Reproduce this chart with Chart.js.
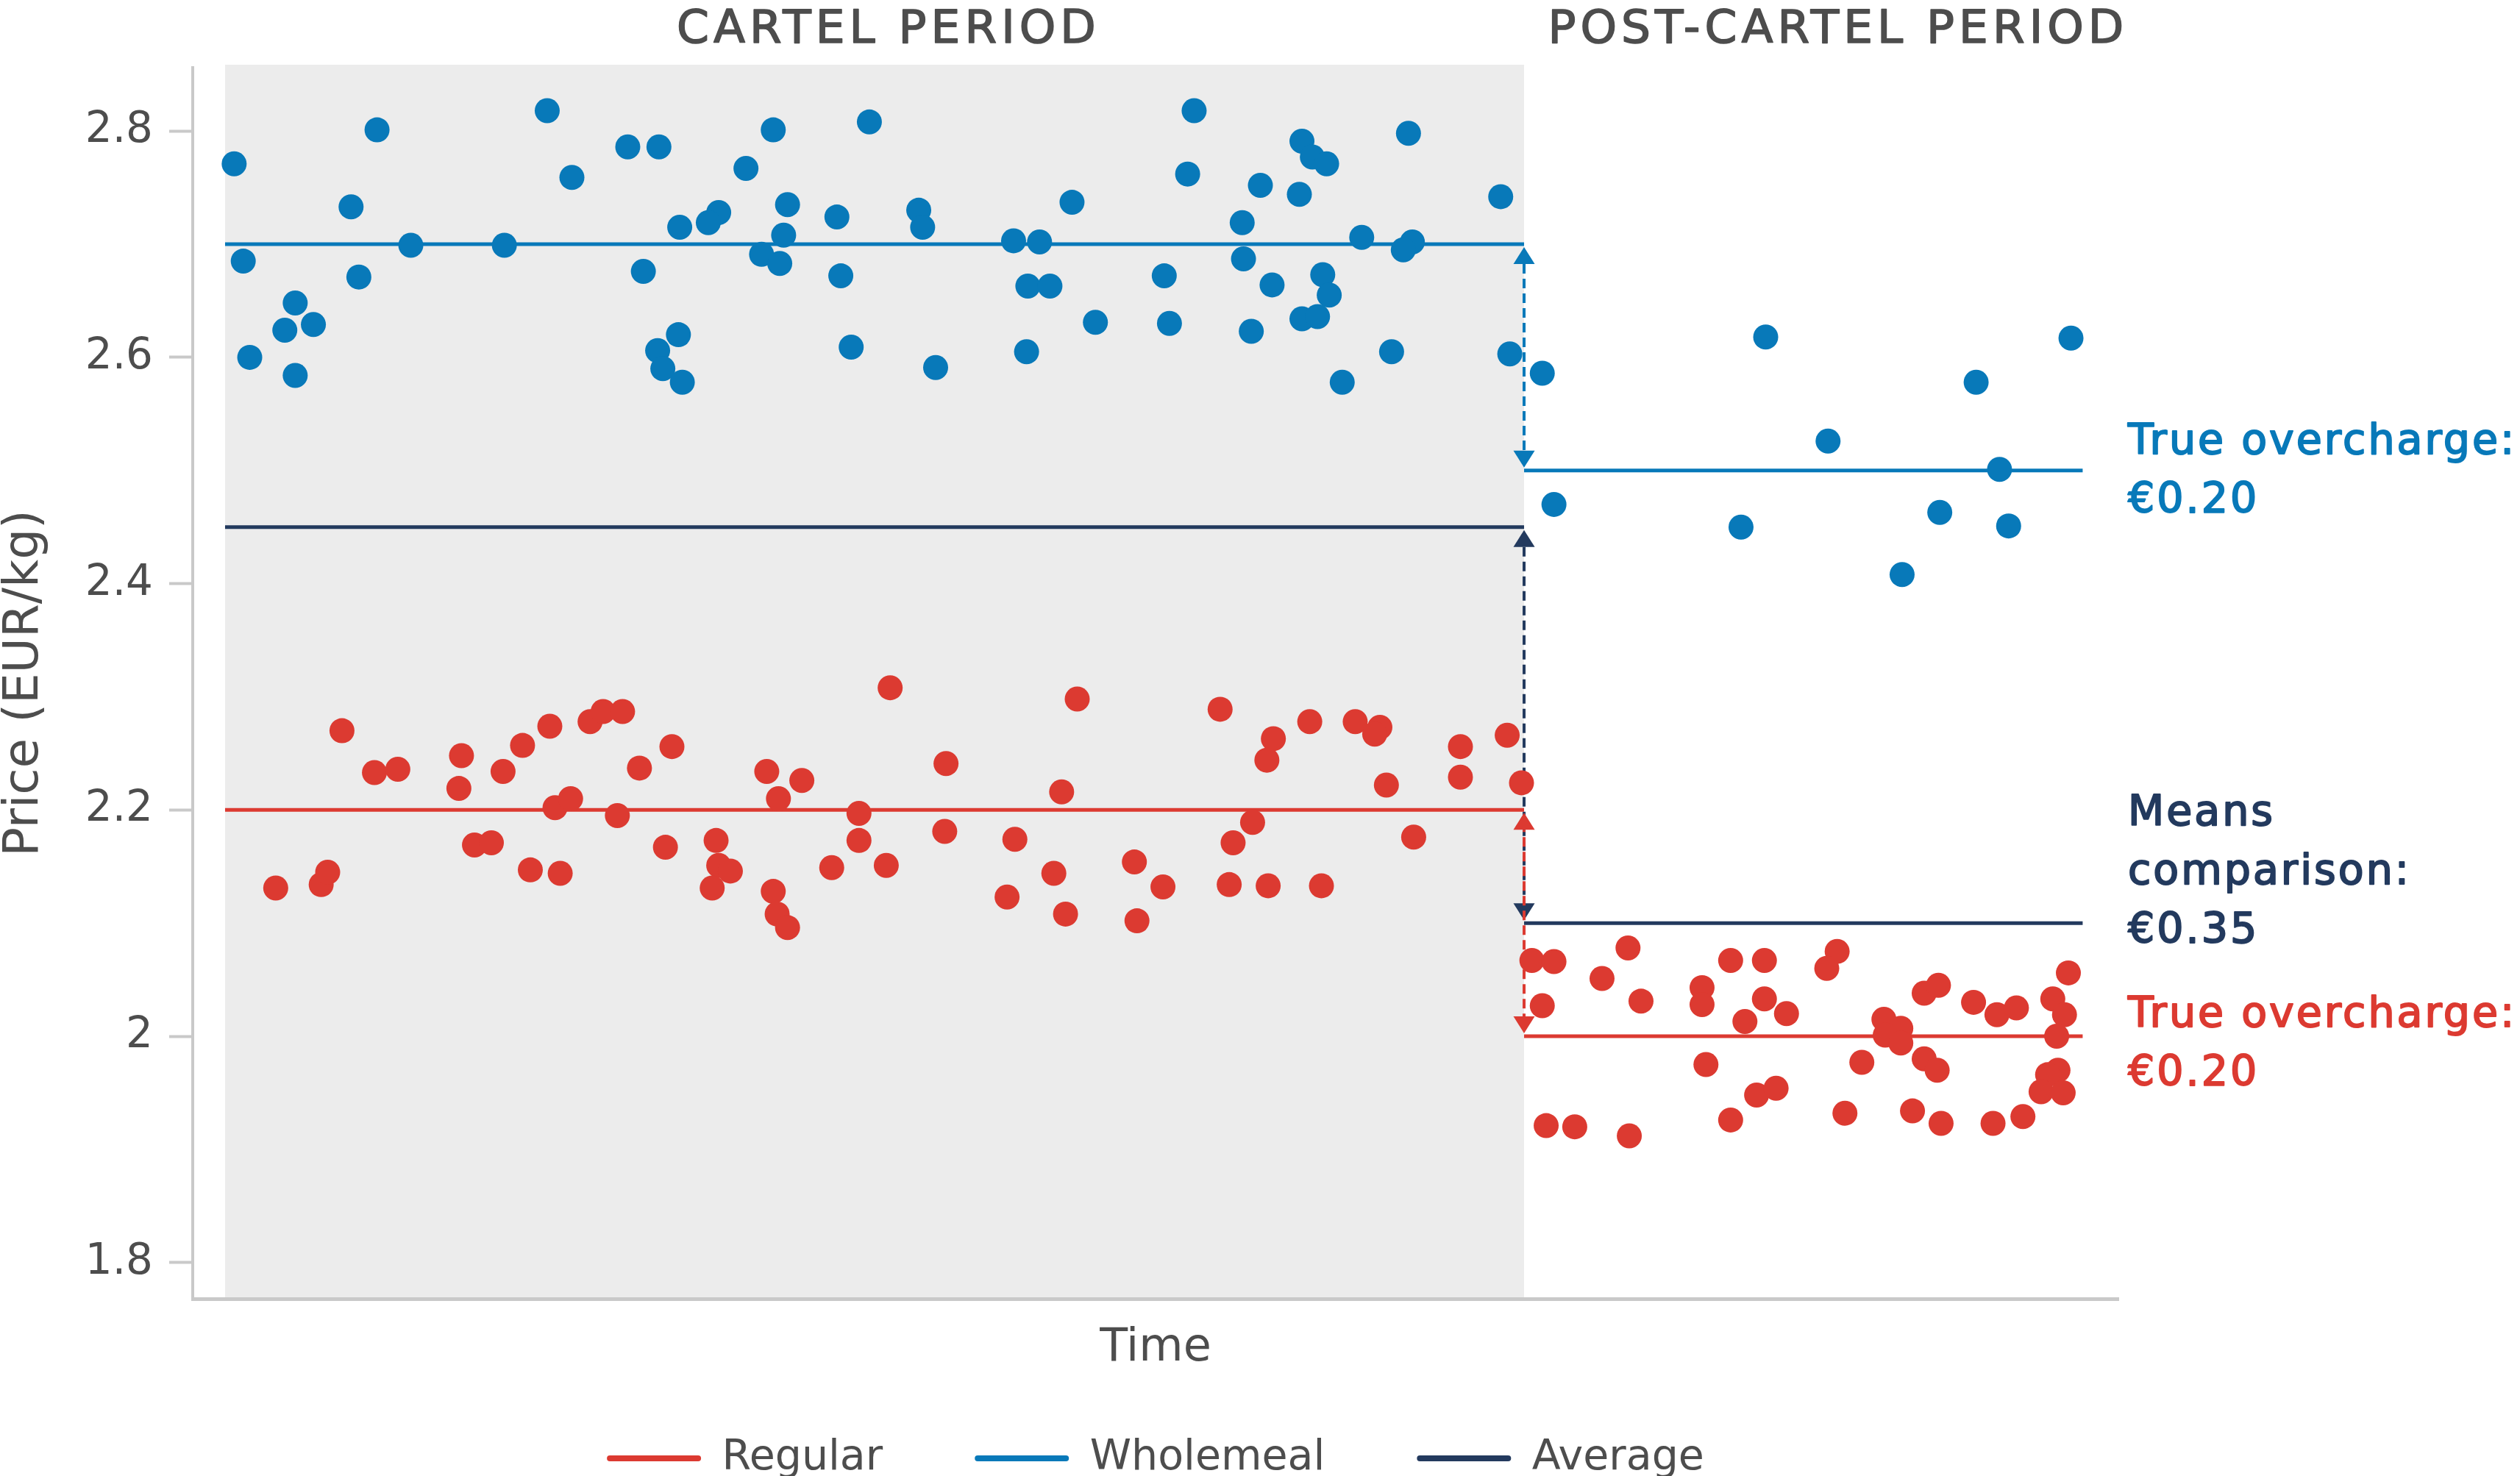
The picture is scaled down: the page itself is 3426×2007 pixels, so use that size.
<!DOCTYPE html>
<html>
<head>
<meta charset="utf-8">
<script src="https://cdn.jsdelivr.net/npm/chart.js"></script>
<style>
html, body { margin: 0; padding: 0; background: #ffffff; }
#wrap { width: 3426px; height: 2007px; }
canvas { display: block; }
</style>
</head>
<body>
<div id="wrap"><canvas id="chart" width="3426" height="2007"></canvas></div>
<script>
// ---------------- DATA ----------------
const periodBounds = [0, 100, 143];            // start of cartel, end of cartel, end of post-cartel (time units)
const periodTitles = ['CARTEL PERIOD', 'POST-CARTEL PERIOD'];
const periodTitleX = [50.9, 124.0];
const yTicks = [1.8, 2, 2.2, 2.4, 2.6, 2.8];

const wholemealMeans = [2.70, 2.50];            // cartel, post-cartel
const regularMeans   = [2.20, 2.00];
const averageMeans   = [2.45, 2.10];

const legendLabels = ['Regular', 'Wholemeal', 'Average'];
const wholemealNote = ['True overcharge:', '€0.20'];
const averageNote   = ['Means', 'comparison:', '€0.35'];
const regularNote   = ['True overcharge:', '€0.20'];

const wholemealTime = [
  0.7,11.7,24.8,31.0,33.4,26.7,42.2,40.1,49.6,9.7,
  38.0,37.2,35.0,43.3,43.0,47.1,14.3,21.5,1.4,41.3,
  42.7,32.2,47.4,10.3,5.4,4.6,6.8,1.9,5.4,34.9,
  33.3,33.7,35.2,48.2,
  74.6,91.1,82.9,83.7,84.8,74.1,79.7,82.7,98.2,53.4,
  53.7,65.2,78.3,60.7,62.7,87.5,91.4,90.7,78.4,72.3,
  61.8,63.5,80.6,84.5,85.0,67.0,72.7,79.0,82.9,84.1,
  61.7,54.7,89.8,98.9,86.0,
  101.4,102.3,118.6,116.7,123.4,129.1,132.0,134.8,136.6,137.3,142.1
];
const wholemealPrice = [
  2.771,2.801,2.818,2.786,2.786,2.759,2.801,2.767,2.808,2.733,
  2.728,2.719,2.715,2.735,2.708,2.724,2.699,2.699,2.685,2.691,
  2.683,2.676,2.672,2.671,2.648,2.624,2.629,2.600,2.584,2.620,
  2.606,2.590,2.578,2.609,
  2.818,2.798,2.791,2.777,2.771,2.762,2.752,2.744,2.742,2.730,
  2.715,2.737,2.719,2.703,2.702,2.706,2.702,2.695,2.687,2.672,
  2.663,2.663,2.664,2.673,2.655,2.631,2.630,2.623,2.634,2.636,
  2.605,2.591,2.605,2.603,2.578,
  2.586,2.470,2.618,2.450,2.526,2.408,2.463,2.578,2.501,2.451,2.617
];

const regularTime = [
  3.9,7.4,7.9,9.0,11.5,13.3,18.2,18.0,19.2,20.5,
  21.4,22.9,25.0,23.5,25.8,25.4,26.6,28.1,29.1,30.6,
  30.2,31.9,34.4,33.9,37.8,38.0,38.9,37.5,41.7,42.6,
  44.4,42.2,42.5,43.3,46.7,48.8,48.8,
  51.2,50.9,55.5,55.4,60.8,60.2,63.8,64.7,64.4,65.6,
  70.0,72.2,70.2,76.6,80.7,80.2,79.1,77.6,77.3,80.3,
  84.4,83.5,87.0,88.9,88.5,89.4,91.5,95.1,95.1,98.7,
  99.8,
  100.6,102.3,101.4,101.7,103.9,106.0,108.0,109.0,108.1,115.9,
  118.5,113.7,113.7,114.0,117.0,118.5,120.2,124.1,123.3,115.9,
  117.9,119.4,124.7,126.0,127.7,129.0,127.8,129.0,130.8,131.8,
  129.9,132.1,130.8,131.9,134.6,136.4,137.9,136.1,138.4,141.9,
  140.7,141.6,141.0,141.1,140.3,139.8,141.5
];
const regularPrice = [
  2.131,2.134,2.145,2.270,2.233,2.236,2.248,2.219,2.169,2.171,
  2.234,2.257,2.274,2.147,2.144,2.202,2.210,2.278,2.287,2.287,
  2.195,2.237,2.256,2.167,2.173,2.151,2.146,2.131,2.234,2.210,
  2.226,2.128,2.108,2.096,2.149,2.197,2.173,
  2.308,2.151,2.241,2.181,2.174,2.123,2.144,2.108,2.216,2.298,
  2.154,2.132,2.102,2.289,2.263,2.244,2.189,2.171,2.134,2.133,
  2.133,2.278,2.278,2.273,2.267,2.222,2.176,2.256,2.229,2.266,
  2.224,
  2.067,2.066,2.027,1.921,1.920,2.051,2.078,2.031,1.912,2.067,
  2.067,2.043,2.028,1.975,2.013,2.033,2.020,2.075,2.060,1.926,
  1.948,1.954,1.932,1.977,2.015,2.007,2.001,1.994,1.980,1.970,
  1.934,1.923,2.038,2.045,2.030,2.019,2.025,1.923,1.929,2.056,
  2.033,2.019,2.000,1.970,1.966,1.951,1.950
];

// ---------------- STYLE ----------------
const RED = '#dc3a31';
const BLUE = '#0879b9';
const NAVY = '#233a5e';
const BAND = '#ececec';
const AXIS = '#c9c9c9';
const TEXT = '#4d4d4d';
const FONT = "'DejaVu Sans', 'Noto Sans', sans-serif";
const legendColors = [RED, BLUE, NAVY];

Chart.defaults.font.family = FONT;

const pts = (xs, ys) => xs.map((x, i) => ({ x: x, y: ys[i] }));
const meanLine = (vals, k) => [{ x: periodBounds[k], y: vals[k] }, { x: periodBounds[k + 1], y: vals[k] }];

function lineDs(label, data, color) {
  return { label, data, showLine: true, borderColor: color, backgroundColor: color,
           borderWidth: 5, pointRadius: 0, pointHoverRadius: 0, order: 2 };
}

const datasets = [
  { label: 'Regular', data: pts(regularTime, regularPrice), backgroundColor: RED, borderWidth: 0,
    pointRadius: 17, pointHoverRadius: 17, order: 0 },
  { label: 'Wholemeal', data: pts(wholemealTime, wholemealPrice), backgroundColor: BLUE, borderWidth: 0,
    pointRadius: 17, pointHoverRadius: 17, order: 0 },
  lineDs('Regular mean (cartel)', meanLine(regularMeans, 0), RED),
  lineDs('Regular mean (post)', meanLine(regularMeans, 1), RED),
  lineDs('Wholemeal mean (cartel)', meanLine(wholemealMeans, 0), BLUE),
  lineDs('Wholemeal mean (post)', meanLine(wholemealMeans, 1), BLUE),
  lineDs('Average (cartel)', meanLine(averageMeans, 0), NAVY),
  lineDs('Average (post)', meanLine(averageMeans, 1), NAVY)
];

function drawArrow(ctx, xp, yTop, yBot, color, dashOffset) {
  const inset = 4, headH = 23, headW = 29;
  const tTop = yTop + inset, tBot = yBot - inset;
  ctx.save();
  ctx.strokeStyle = color;
  ctx.lineWidth = 4;
  ctx.setLineDash([13, 7]);
  ctx.lineDashOffset = dashOffset;
  ctx.beginPath();
  ctx.moveTo(xp, tTop + headH);
  ctx.lineTo(xp, tBot - headH);
  ctx.stroke();
  ctx.setLineDash([]);
  ctx.fillStyle = color;
  ctx.beginPath();
  ctx.moveTo(xp, tTop);
  ctx.lineTo(xp - headW / 2, tTop + headH);
  ctx.lineTo(xp + headW / 2, tTop + headH);
  ctx.closePath();
  ctx.fill();
  ctx.beginPath();
  ctx.moveTo(xp, tBot);
  ctx.lineTo(xp - headW / 2, tBot - headH);
  ctx.lineTo(xp + headW / 2, tBot - headH);
  ctx.closePath();
  ctx.fill();
  ctx.restore();
}

function drawNote(ctx, lines, color, x, yBase) {
  ctx.save();
  ctx.font = '57px ' + FONT;
  ctx.letterSpacing = '3px';
  ctx.fillStyle = color;
  ctx.strokeStyle = color;
  ctx.lineWidth = 2;
  ctx.lineJoin = 'round';
  ctx.textAlign = 'left';
  ctx.textBaseline = 'alphabetic';
  lines.forEach((s, i) => {
    ctx.fillText(s, x, yBase + i * 80);
    ctx.strokeText(s, x, yBase + i * 80);
  });
  ctx.restore();
}

const decorPlugin = {
  id: 'decor',
  beforeDraw(chart) {
    const { ctx, chartArea, scales: { x } } = chart;
    const x0 = x.getPixelForValue(periodBounds[0]);
    const x1 = x.getPixelForValue(periodBounds[1]);
    ctx.save();
    ctx.fillStyle = BAND;
    ctx.fillRect(x0, chartArea.top - 4, x1 - x0, chartArea.bottom - chartArea.top + 4);
    ctx.restore();
  },
  beforeDatasetsDraw(chart) {
    const { ctx, scales: { x, y } } = chart;
    const xp = x.getPixelForValue(periodBounds[1]);
    drawArrow(ctx, xp, y.getPixelForValue(averageMeans[0]), y.getPixelForValue(averageMeans[1]), NAVY, 0);
    drawArrow(ctx, xp, y.getPixelForValue(wholemealMeans[0]), y.getPixelForValue(wholemealMeans[1]), BLUE, 0);
    drawArrow(ctx, xp, y.getPixelForValue(regularMeans[0]), y.getPixelForValue(regularMeans[1]), RED, 10);
  },
  afterDraw(chart) {
    const { ctx, chartArea, scales: { x, y } } = chart;
    ctx.save();
    ctx.font = '63px ' + FONT;
    ctx.letterSpacing = '6px';
    ctx.fillStyle = TEXT;
    ctx.strokeStyle = TEXT;
    ctx.lineWidth = 1.6;
    ctx.lineJoin = 'round';
    ctx.textAlign = 'center';
    ctx.textBaseline = 'alphabetic';
    periodTitles.forEach((t, i) => {
      const px = x.getPixelForValue(periodTitleX[i]) + 3;
      ctx.fillText(t, px, chartArea.top - 34);
      ctx.strokeText(t, px, chartArea.top - 34);
    });
    ctx.restore();
    const nx = chartArea.right + 13;
    drawNote(ctx, wholemealNote, BLUE, nx, y.getPixelForValue(wholemealMeans[1]) - 23);
    drawNote(ctx, averageNote, NAVY, nx, y.getPixelForValue(averageMeans[1]) - 133);
    drawNote(ctx, regularNote, RED, nx, y.getPixelForValue(regularMeans[1]) - 13);
  }
};

new Chart(document.getElementById('chart'), {
  type: 'scatter',
  data: { datasets },
  plugins: [decorPlugin],
  options: {
    responsive: false,
    animation: false,
    events: [],
    layout: { padding: { top: 92, right: 546, bottom: -14.5, left: 0 } },
    scales: {
      x: {
        type: 'linear',
        min: -2.49,
        max: 145.75,
        ticks: { display: false },
        grid: { display: false },
        border: { display: true, color: AXIS, width: 5 },
        title: { display: true, text: 'Time', color: TEXT, font: { size: 62, lineHeight: 1 },
                 padding: { top: 0, bottom: -35 } },
        afterFit(s) { s.height = 63.5; }
      },
      y: {
        type: 'linear',
        min: 1.768,
        max: 2.856,
        afterBuildTicks(s) { s.ticks = yTicks.map(v => ({ value: v })); },
        ticks: { color: TEXT, font: { size: 58 }, padding: 22, callback: v => String(v) },
        grid: { display: true, drawOnChartArea: false, drawTicks: true, tickLength: 32,
                tickColor: AXIS, tickWidth: 4 },
        border: { display: true, color: AXIS, width: 4 },
        title: { display: true, text: 'Price (EUR/kg)', color: TEXT, font: { size: 66, lineHeight: 1 },
                 padding: { top: 1, bottom: 0 } },
        afterFit(s) { s.width = 262; }
      }
    },
    plugins: {
      tooltip: { enabled: false },
      legend: {
        position: 'bottom',
        fullSize: false,
        labels: {
          boxWidth: 128,
          boxHeight: 8,
          padding: 125,
          color: TEXT,
          font: { size: 57 },
          useBorderRadius: true,
          borderRadius: 4,
          generateLabels: () => legendLabels.map((t, i) => ({
            text: t, fillStyle: legendColors[i], strokeStyle: legendColors[i],
            lineWidth: 0, hidden: false, datasetIndex: i, fontColor: TEXT, borderRadius: 4
          }))
        }
      }
    }
  }
});
</script>
</body>
</html>
